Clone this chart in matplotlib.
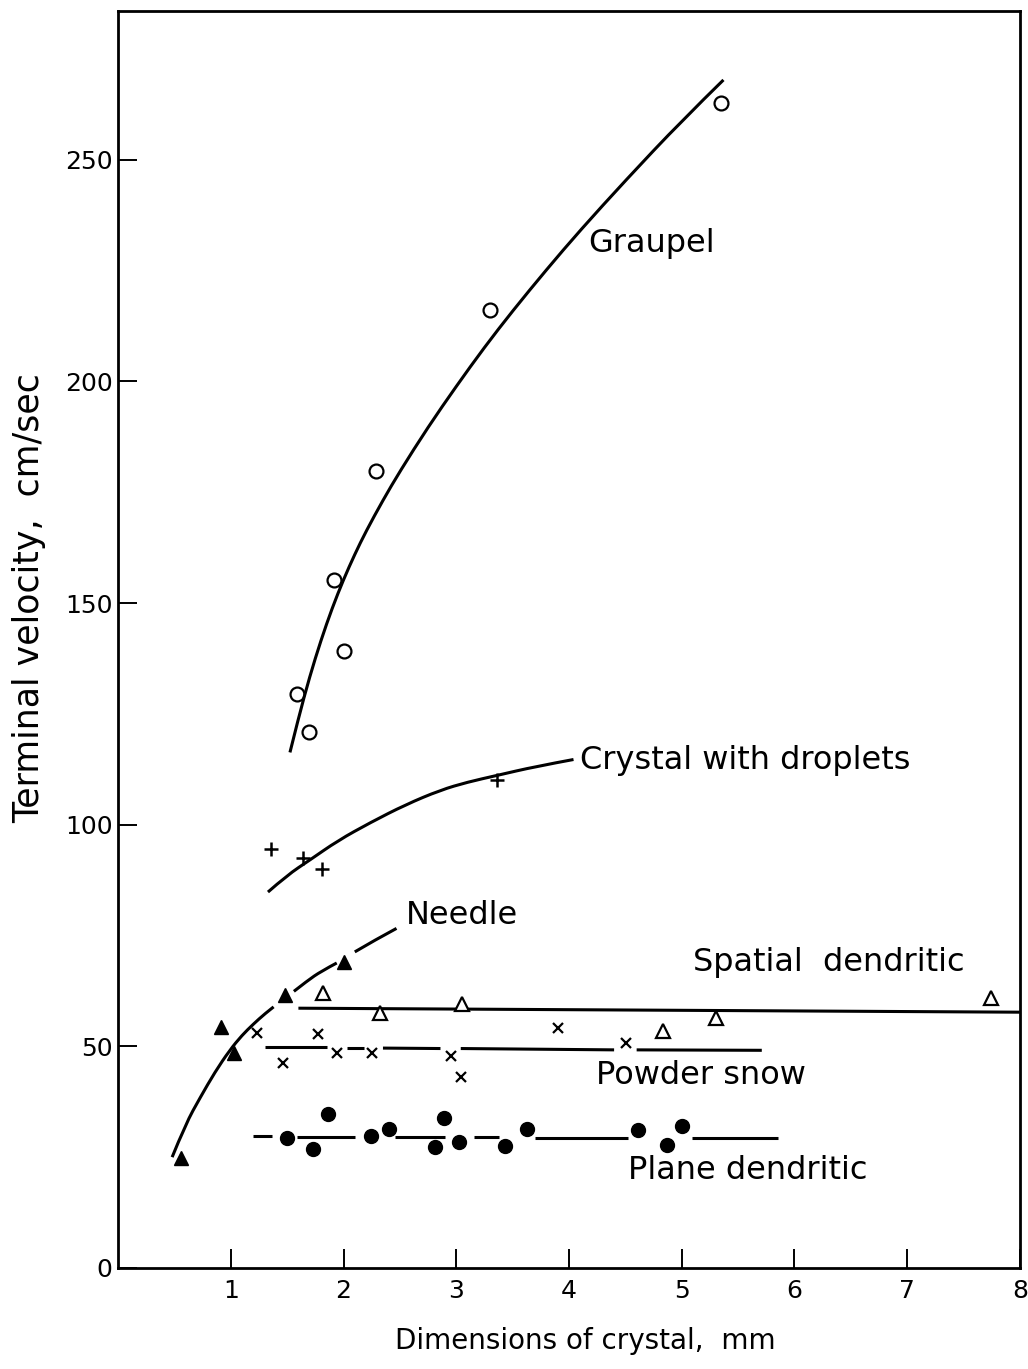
import numpy as np
import matplotlib
matplotlib.use("Agg")
import matplotlib.pyplot as plt
from matplotlib.path import Path
from matplotlib.patches import PathPatch

plt.rcParams['font.family'] = ['DejaVu Sans']

# measured points (crystal size in mm, terminal velocity in cm/s)
graupel_x = [1.59, 1.69, 1.92, 2.00, 2.29, 3.30, 5.35]
graupel_y = [129.4, 120.8, 155.1, 139.1, 179.7, 216.0, 262.8]

droplet_x = [1.36, 1.64, 1.81, 3.36]
droplet_y = [94.5, 92.4, 89.9, 110.0]

needle_x = [0.56, 0.91, 1.03, 1.48, 2.00]
needle_y = [24.8, 54.3, 48.5, 61.5, 69.0]

spatial_x = [1.82, 2.32, 3.05, 4.83, 5.30, 7.74]
spatial_y = [62.0, 57.5, 59.5, 53.5, 56.4, 60.9]

powder_x = [1.23, 1.46, 1.77, 1.94, 2.25, 2.95, 3.04, 3.90, 4.51]
powder_y = [53.0, 46.2, 52.7, 48.5, 48.5, 47.8, 43.1, 54.1, 50.7]

plane_x = [1.50, 1.73, 1.86, 2.24, 2.40, 2.89, 2.81, 3.02, 3.43, 3.63, 4.61, 4.87, 5.00]
plane_y = [29.4, 26.9, 34.7, 29.8, 31.3, 33.8, 27.3, 28.4, 27.5, 31.3, 31.1, 27.8, 32.0]

# hand-drawn fitted curves (NaN = break in the line)
graupel_fit_x = [1.525, 1.60, 1.70, 1.80, 1.90, 2.00, 2.10, 2.20, 2.35, 2.50, 2.75, 3.00, 3.25, 3.50, 3.80, 4.10, 4.50, 5.00, 5.37]
graupel_fit_y = [116.3, 124.0, 133.4, 141.6, 148.9, 155.3, 161.0, 166.2, 173.2, 179.7, 189.7, 198.9, 207.7, 215.9, 225.2, 234.1, 245.3, 258.8, 268.0]

droplet_fit_x = [1.33, 1.50, 1.70, 1.95, 2.24, 2.55, 2.86, 3.10, 3.36, 3.70, 4.04]
droplet_fit_y = [84.8, 88.6, 92.0, 96.4, 100.5, 104.5, 107.8, 109.6, 111.1, 113.1, 114.7]

needle_fit_x = [0.48, 0.60, 0.73, 0.86, 0.99, 1.10, 1.20, 1.30, 1.38, np.nan, 1.56, 1.68, 1.80, 1.94, np.nan, 2.10, 2.28, 2.47]
needle_fit_y = [25.0, 32.5, 38.5, 44.2, 49.1, 52.5, 55.0, 57.3, 58.9, np.nan, 62.4, 64.8, 66.9, 68.8, np.nan, 71.3, 74.0, 76.6]

spatial_fit_x = [1.60, 8.0]
spatial_fit_y = [58.6, 57.7]

powder_fit_x = [1.30, 1.85, np.nan, 2.03, 2.18, np.nan, 2.35, 2.86, np.nan, 3.04, 4.40, np.nan, 4.60, 5.71]
powder_fit_y = [49.8, 49.8, np.nan, 49.7, 49.7, np.nan, 49.6, 49.5, np.nan, 49.5, 49.2, np.nan, 49.2, 49.1]

plane_fit_x = [1.20, 1.37, np.nan, 1.59, 2.10, np.nan, 2.46, 2.90, np.nan, 3.16, 3.38, np.nan, 3.70, 4.52, np.nan, 5.09, 5.85]
plane_fit_y = [29.7, 29.7, np.nan, 29.6, 29.6, np.nan, 29.6, 29.6, np.nan, 29.5, 29.5, np.nan, 29.4, 29.4, np.nan, 29.3, 29.3]


def draw_curve(ax, xs, ys, lw):
    """Smooth freehand-style curve through the nodes, broken at NaN."""
    xs = np.asarray(xs, float)
    ys = np.asarray(ys, float)
    breaks = np.where(np.isnan(xs))[0]
    for seg in np.split(np.arange(len(xs)), breaks):
        seg = seg[~np.isnan(xs[seg])]
        pts = np.column_stack([xs[seg], ys[seg]])
        if len(pts) < 3:
            ax.plot(pts[:, 0], pts[:, 1], color='black', lw=lw, solid_capstyle='butt')
            continue
        verts = [pts[0]]
        codes = [Path.MOVETO]
        for i in range(1, len(pts) - 1):
            mid = (pts[i] + pts[i + 1]) / 2 if i < len(pts) - 2 else pts[-1]
            verts += [pts[i], mid]
            codes += [Path.CURVE3, Path.CURVE3]
        ax.add_patch(PathPatch(Path(verts, codes), fc='none', ec='black', lw=lw, capstyle='butt'))


fig = plt.figure(figsize=(10.28, 13.69), dpi=100)
ax = fig.add_axes([0.1148, 0.0738, 0.8774, 0.918])

lw = 2.2
for cx, cy in [(graupel_fit_x, graupel_fit_y), (droplet_fit_x, droplet_fit_y),
               (needle_fit_x, needle_fit_y), (spatial_fit_x, spatial_fit_y),
               (powder_fit_x, powder_fit_y), (plane_fit_x, plane_fit_y)]:
    draw_curve(ax, cx, cy, lw)

ax.plot(graupel_x, graupel_y, 'o', ms=10, mfc='none', mec='black', mew=1.6)
ax.plot(droplet_x, droplet_y, '+', ms=10, mec='black', mew=1.8)
ax.plot(needle_x, needle_y, '^', ms=10.5, mfc='black', mec='black')
ax.plot(spatial_x, spatial_y, '^', ms=10, mfc='white', mec='black', mew=1.6)
ax.plot(powder_x, powder_y, 'x', ms=7, mec='black', mew=1.6)
ax.plot(plane_x, plane_y, 'o', ms=10, mfc='black', mec='black')

fs = 23
ax.text(4.17, 231, 'Graupel', fontsize=fs, va='center')
ax.text(4.10, 114.5, 'Crystal with droplets', fontsize=fs, va='center')
ax.text(2.55, 79.5, 'Needle', fontsize=fs, va='center')
ax.text(5.10, 69, 'Spatial  dendritic', fontsize=fs, va='center')
ax.text(4.24, 43.5, 'Powder snow', fontsize=fs, va='center')
ax.text(4.52, 22, 'Plane dendritic', fontsize=fs, va='center')

ax.set_xlim(0, 8)
ax.set_ylim(0, 283.5)
ax.set_xticks([1, 2, 3, 4, 5, 6, 7, 8])
ax.set_yticks([0, 50, 100, 150, 200, 250])
ax.tick_params(direction='in', length=14, width=1.4, labelsize=18, pad=8)
ax.tick_params(axis='y', pad=4)
for s in ax.spines.values():
    s.set_linewidth(2)

ax.set_xlabel('Dimensions of crystal,  mm', fontsize=20)
ax.set_ylabel('Terminal velocity,  cm/sec', fontsize=25)
ax.xaxis.set_label_coords(0.518, -0.047)
ax.yaxis.set_label_coords(-0.08, 0.533)

fig.savefig('out.png', dpi=100)
